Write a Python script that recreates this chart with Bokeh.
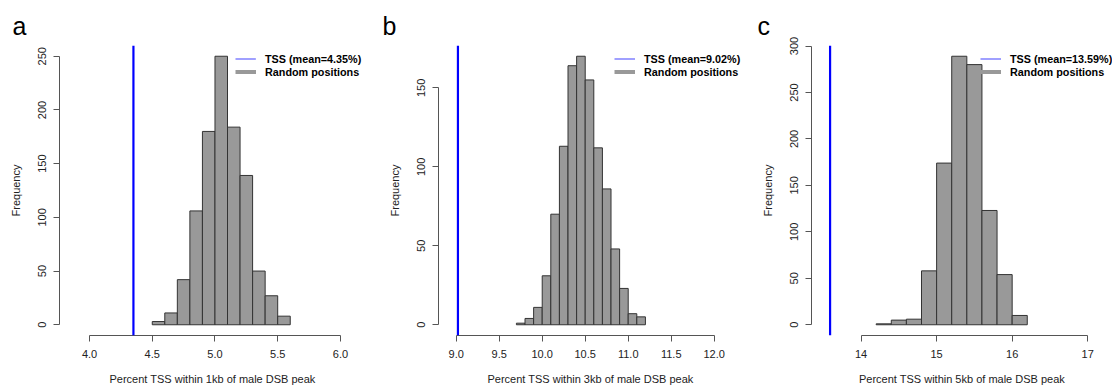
from bokeh.plotting import figure
from bokeh.layouts import row
from bokeh.models import Span, Legend, LegendItem, FixedTicker, Range1d
from bokeh.embed import file_html
from bokeh.resources import INLINE

FONT = "Liberation Sans"

# ---------------- data ----------------
# panel a : 1kb
edges_a = [4.5, 4.6, 4.7, 4.8, 4.9, 5.0, 5.1, 5.2, 5.3, 5.4, 5.5, 5.6]
counts_a = [3, 11, 42, 106, 180, 250, 184, 139, 50, 27, 8]
tss_a = 4.35
xticks_a = [4.0, 4.5, 5.0, 5.5, 6.0]
xlabels_a = ["4.0", "4.5", "5.0", "5.5", "6.0"]
yticks_a = [0, 50, 100, 150, 200, 250]
xtitle_a = "Percent TSS within 1kb of male DSB peak"
legend_a = "TSS (mean=4.35%)"

# panel b : 3kb
edges_b = [9.7, 9.8, 9.9, 10.0, 10.1, 10.2, 10.3, 10.4, 10.5, 10.6, 10.7, 10.8, 10.9, 11.0, 11.1, 11.2]
counts_b = [1, 4, 11, 31, 70, 113, 164, 170, 155, 112, 86, 48, 23, 7, 5]
tss_b = 9.02
xticks_b = [9.0, 9.5, 10.0, 10.5, 11.0, 11.5, 12.0]
xlabels_b = ["9.0", "9.5", "10.0", "10.5", "11.0", "11.5", "12.0"]
yticks_b = [0, 50, 100, 150]
xtitle_b = "Percent TSS within 3kb of male DSB peak"
legend_b = "TSS (mean=9.02%)"

# panel c : 5kb
edges_c = [14.2, 14.4, 14.6, 14.8, 15.0, 15.2, 15.4, 15.6, 15.8, 16.0, 16.2]
counts_c = [1, 5, 6, 58, 174, 289, 280, 123, 54, 10]
tss_c = 13.59
xticks_c = [14, 15, 16, 17]
xlabels_c = ["14", "15", "16", "17"]
yticks_c = [0, 50, 100, 150, 200, 250, 300]
xtitle_c = "Percent TSS within 5kb of male DSB peak"
legend_c = "TSS (mean=13.59%)"

random_label = "Random positions"
ytitle = "Frequency"
letters = ["a", "b", "c"]

BAR_FILL = "#999999"
BAR_LINE = "#333333"
AXIS_COL = "#555555"


def panel(letter, edges, counts, tss, xticks, xlabels, yticks, xtitle, tss_label,
          xr, width, mb_left, mb_right, legend_x):
    ymax = max(counts)
    pad = 0.04 * ymax
    p = figure(width=width, height=390, output_backend="svg", toolbar_location=None,
               x_range=Range1d(*xr), y_range=Range1d(-pad, ymax + pad),
               min_border_left=mb_left, min_border_right=mb_right,
               min_border_top=45, min_border_bottom=55)
    p.xgrid.visible = False
    p.ygrid.visible = False
    p.outline_line_color = None
    p.background_fill_color = "white"
    p.border_fill_color = "white"

    # panel letter as title
    p.title.text = letter
    p.title.text_font = FONT
    p.title.text_font_size = "25px"
    p.title.text_font_style = "normal"
    p.title.text_color = "black"
    p.title.align = "left"
    p.title.offset = -(mb_left - 12)
    p.title.standoff = 12

    p.quad(left=edges[:-1], right=edges[1:], bottom=0, top=counts,
           fill_color=BAR_FILL, line_color=BAR_LINE, line_width=1)

    p.add_layout(Span(location=tss, dimension="height", line_color="#0000ff", line_width=2.2))

    # legend-only renderers (draw nothing in the plot: NaN y)
    r_tss = p.line(x=[tss], y=[float("nan")], line_color="#6060ff", line_width=1.2)
    r_rand = p.line(x=[tss], y=[float("nan")], line_color="#999999", line_width=4)
    leg = Legend(items=[LegendItem(label=tss_label, renderers=[r_tss]),
                        LegendItem(label=random_label, renderers=[r_rand])],
                 location=(legend_x, 257), padding=0, margin=0, spacing=0,
                 glyph_width=21, glyph_height=13, label_height=13, label_standoff=9,
                 border_line_alpha=0, background_fill_alpha=0,
                 label_text_font=FONT, label_text_font_style="bold",
                 label_text_font_size="10.8px", label_text_color="black")
    p.add_layout(leg)

    for ax in (p.xaxis[0], p.yaxis[0]):
        ax.axis_line_color = AXIS_COL
        ax.major_tick_line_color = AXIS_COL
        ax.minor_tick_line_color = None
        ax.major_tick_in = 0
        ax.major_tick_out = 6
        ax.major_label_text_font = FONT
        ax.major_label_text_font_size = "11px"
        ax.major_label_text_color = "#222222"
        ax.axis_label_text_font = FONT
        ax.axis_label_text_font_size = "11px"
        ax.axis_label_text_font_style = "normal"
        ax.axis_label_text_color = "#222222"

    xa = p.xaxis[0]
    xa.ticker = FixedTicker(ticks=xticks)
    xa.major_label_overrides = {t: l for t, l in zip(xticks, xlabels)}
    xa.bounds = (xticks[0], xticks[-1])
    xa.axis_label = xtitle
    xa.major_label_standoff = 8
    xa.axis_label_standoff = 12

    ya = p.yaxis[0]
    ya.ticker = FixedTicker(ticks=yticks)
    ya.bounds = (yticks[0], yticks[-1])
    ya.major_label_orientation = "vertical"
    ya.axis_label = ytitle
    ya.major_label_standoff = 7
    ya.axis_label_standoff = 14
    return p


pa = panel(letters[0], edges_a, counts_a, tss_a, xticks_a, xlabels_a, yticks_a, xtitle_a, legend_a,
           (3.7606, 6.2), 370, 59, 5, 176)
pb = panel(letters[1], edges_b, counts_b, tss_b, xticks_b, xlabels_b, yticks_b, xtitle_b, legend_b,
           (8.794, 12.329), 375, 68, 3, 176)
pc = panel(letters[2], edges_c, counts_c, tss_c, xticks_c, xlabels_c, yticks_c, xtitle_c, legend_c,
           (13.344, 17.328), 369, 66, 2, 169)

layout = row(pa, pb, pc, spacing=0)
open("out.html", "w").write(file_html(layout, INLINE))
